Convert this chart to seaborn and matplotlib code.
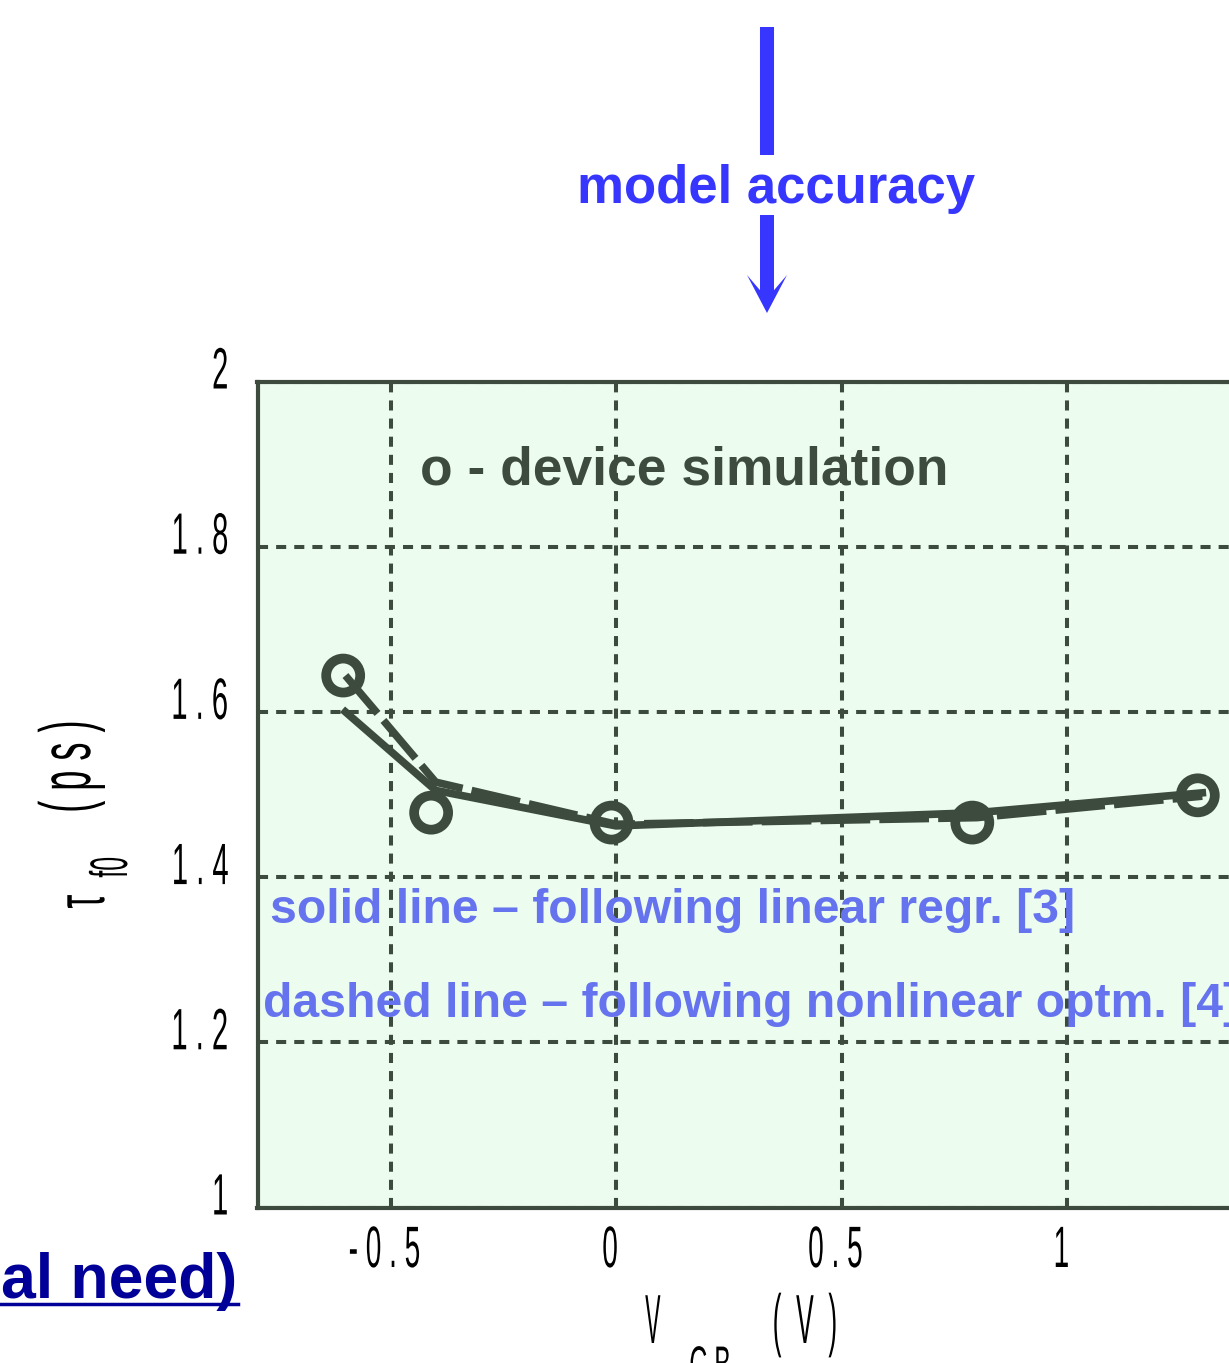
import matplotlib
matplotlib.use('Agg')
import matplotlib.pyplot as plt
import seaborn as sns
from matplotlib import patheffects, transforms
from matplotlib.patches import FancyArrow
from matplotlib.lines import Line2D

# data
vcb_sim = [-0.605, -0.41, -0.01, 0.79, 1.29]
tau_sim = [1.644, 1.478, 1.466, 1.466, 1.499]

vcb_model = [-0.6, -0.4, 0.0, 0.8, 1.3]
tau_linear = [1.600, 1.505, 1.462, 1.478, 1.502]      # solid line
tau_nonlinear = [1.644, 1.515, 1.464, 1.472, 1.498]   # dashed line

xtick_vals = [-0.5, 0, 0.5, 1]
xtick_labels = ['- 0 . 5', '0', '0 . 5', '1']
ytick_vals = [1, 1.2, 1.4, 1.6, 1.8, 2]
ytick_labels = ['1', '1 . 2', '1 . 4', '1 . 6', '1 . 8', '2']

DARK = '#3c4b3e'
BG = '#ecfdf0'
TXTBLUE = '#6673ee'
ARROWBLUE = '#3636ff'
NAVY = '#000099'
FONT = 'Liberation Sans'

W, H = 1229, 1363


class Squeeze(patheffects.AbstractPathEffect):
    """narrow the glyphs horizontally (the reference uses a very condensed font)"""
    def __init__(self, sx, anchor=0.5):
        super().__init__()
        self.sx = sx
        self.anchor = anchor

    def draw_path(self, renderer, gc, tpath, affine, rgbFace=None):
        ext = tpath.get_extents()
        x0 = ext.x0 + self.anchor * ext.width
        sq = transforms.Affine2D().translate(-x0, 0).scale(self.sx, 1).translate(x0, 0)
        renderer.draw_path(gc, tpath, sq + affine, rgbFace)


fig = plt.figure(figsize=(W / 100, H / 100), dpi=100)
ax = fig.add_axes([257.5 / W, (H - 1207.5) / H, 1035 / W, 826 / H])
ax.set_facecolor(BG)

# model curves and device simulation points
sns.lineplot(x=vcb_model, y=tau_linear, ax=ax, color=DARK, lw=5.5, sort=False, zorder=3)
sns.lineplot(x=vcb_model, y=tau_nonlinear, ax=ax, color=DARK, lw=5.5, sort=False,
             linestyle=(0, (6.5, 1.2)), zorder=3)
sns.scatterplot(x=vcb_sim, y=tau_sim, ax=ax, s=600, marker='o', color=DARK,
                facecolors='none', edgecolor=DARK, linewidth=7, zorder=4)

ax.set_xlim(-0.795, 1.5)
ax.set_ylim(1, 2)
ax.set_xlabel('')
ax.set_ylabel('')
ax.set_xticks(xtick_vals, labels=xtick_labels)
ax.set_yticks(ytick_vals, labels=ytick_labels)
ax.tick_params(length=0, labelsize=42, labelcolor='black')
ax.tick_params(axis='x', pad=12.6)
ax.tick_params(axis='y', pad=20)

ax.grid(True, color=DARK, lw=2.9, linestyle=(0, (2.5, 2.0)))
ax.set_axisbelow(True)
for sp in ax.spines.values():
    sp.set_color(DARK)
    sp.set_linewidth(3)

for lab in ax.get_xticklabels():
    lab.set_fontfamily(FONT)
    lab.set_path_effects([Squeeze(0.48, 0.5)])
    lab.set_transform(lab.get_transform() + transforms.ScaledTranslation(-0.06, 0, fig.dpi_scale_trans))
for lab in ax.get_yticklabels():
    lab.set_fontfamily(FONT)
    lab.set_va('baseline')
    lab.set_path_effects([Squeeze(0.5, 1.0)])
    lab.set_transform(lab.get_transform() + transforms.ScaledTranslation(0, -0.07, fig.dpi_scale_trans))

# annotations inside the plot
ax.text(-0.435, 1.875, 'o - device simulation', fontsize=38.4, fontweight='bold',
        color=DARK, family=FONT, zorder=5)
ax.text(-0.767, 1.344, 'solid line \u2013 following linear regr. [3]', fontsize=34.7,
        fontweight='bold', color=TXTBLUE, family=FONT, zorder=5)
ax.text(-0.783, 1.231, 'dashed line \u2013 following nonlinear optm. [4]', fontsize=34.7,
        fontweight='bold', color=TXTBLUE, family=FONT, zorder=5)

# axis labels (condensed look, built from pieces)
def px(x, y):
    return x / W, (H - y) / H

fig.text(*px(104, 909), '\u03c4', fontsize=50, family=FONT, rotation=90,
         rotation_mode='anchor', ha='left', va='baseline',
         path_effects=[Squeeze(0.5, 0.0)])
fig.text(*px(127, 878), 'f0', fontsize=38, family=FONT, rotation=90,
         rotation_mode='anchor', ha='left', va='baseline',
         path_effects=[Squeeze(0.47, 0.0)])
fig.text(*px(90, 815), '( p s )', fontsize=52, family=FONT, rotation=90,
         rotation_mode='anchor', ha='left', va='baseline',
         path_effects=[Squeeze(0.5, 0.0)])

fig.text(*px(645, 1343), 'V', fontsize=50, family=FONT, ha='left', va='baseline',
         path_effects=[Squeeze(0.33, 0.0)])
fig.text(*px(688, 1381), 'C B', fontsize=36, family=FONT, ha='left', va='baseline',
         path_effects=[Squeeze(0.5, 0.0)])
fig.text(*px(770, 1343), '(  V  )', fontsize=50, family=FONT, ha='left', va='baseline',
         path_effects=[Squeeze(0.38, 0.0)])

# "model accuracy" arrow
fig.text(*px(577, 203), 'model accuracy', fontsize=38, fontweight='bold',
         color=ARROWBLUE, family=FONT, ha='left', va='baseline')
fig.add_artist(Line2D([767 / W, 767 / W], [(H - 27) / H, (H - 155) / H],
                      transform=fig.transFigure, color=ARROWBLUE, lw=10.1,
                      solid_capstyle='butt'))
fig.add_artist(FancyArrow(7.67, (H - 215) / 100, 0, -(313 - 215) / 100, width=0.14,
                          head_width=0.40, head_length=0.38, overhang=0.4,
                          length_includes_head=True, transform=fig.dpi_scale_trans,
                          color=ARROWBLUE, lw=0))

# clipped underlined text at bottom left
fig.text(*px(237, 1298), 'al need)', fontsize=45, fontweight='bold', color=NAVY,
         family=FONT, ha='right', va='baseline')
fig.add_artist(Line2D([0, 238 / W], [(H - 1304) / H] * 2, transform=fig.transFigure,
                      color=NAVY, lw=2.5))

fig.savefig('out.png', dpi=100)
